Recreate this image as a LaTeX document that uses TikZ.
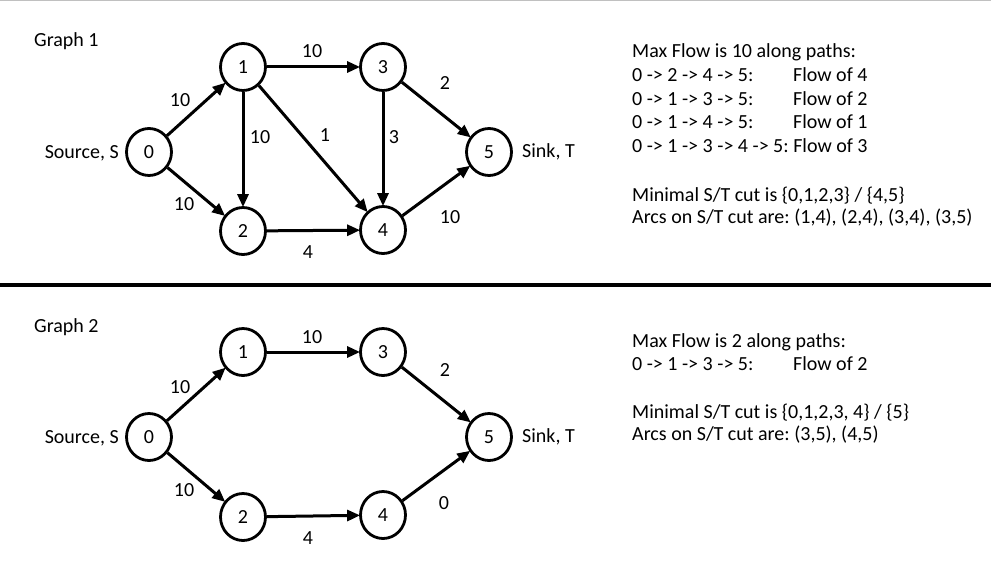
\documentclass[tikz,border=0pt]{standalone}
\usepackage{fontspec}
\setmainfont{Carlito}
\usetikzlibrary{arrows.meta,shapes.geometric}
\frenchspacing
\begin{document}
\begin{tikzpicture}[x=1pt,y=-1pt,
  vert/.style={ellipse,draw,line width=2.8pt,minimum width=45pt,minimum height=47pt,inner sep=0pt,font=\fontsize{20}{24}\selectfont},
  edge/.style={line width=3pt,-{Triangle[length=13pt,width=11pt]},shorten >=-1pt},
  lbl/.style={inner sep=0pt,font=\fontsize{20}{24}\selectfont},
  txt/.style={inner sep=0pt,anchor=base west,font=\fontsize{20}{24}\selectfont}]
\useasboundingbox (0,0) rectangle (991,567);
\fill[white] (0,0) rectangle (991,567);
\draw[line width=1.4pt,color={rgb,255:red,192;green,192;blue,192}] (0,0.7) -- (991,0.7);
\draw[line width=4.6pt] (0,285) -- (991,285);

% ---------- Graph 1 ----------
\node[txt] (g1) at (34,47) {Graph 1};
\node[vert] (a0) at (149,152) {0};
\node[vert] (a1) at (243,67) {1};
\node[vert] (a2) at (243,231) {2};
\node[vert] (a3) at (383,67) {3};
\node[vert] (a4) at (383,230) {4};
\node[vert] (a5) at (489,152) {5};
\node[lbl,anchor=east] (as) at (119,153) {Source, S};
\node[lbl,anchor=west] (at) at (522,152) {Sink, T};
\draw[edge] (a0) -- (a1);
\draw[edge] (a0) -- (a2);
\draw[edge] (a1) -- (a3);
\draw[edge] (a1) -- (a2);
\draw[edge] (a1) -- (a4);
\draw[edge] (a3) -- (a4);
\draw[edge] (a3) -- (a5);
\draw[edge] (a2) -- (a4);
\draw[edge] (a4) -- (a5);
\node[lbl] (l01) at (180,100) {10};
\node[lbl] (l02) at (184,204) {10};
\node[lbl] (l13) at (312,51) {10};
\node[lbl] (l35) at (445,83) {2};
\node[lbl] (l12) at (260,137) {10};
\node[lbl] (l14) at (325,135) {1};
\node[lbl] (l34) at (394,137) {3};
\node[lbl] (l45) at (450,217) {10};
\node[lbl] (l24) at (308,252) {4};

\node[txt] (t1) at (632,58) {Max Flow is 10 along paths:};
\node[txt] (t2) at (632,82) {0 -> 2 -> 4 -> 5:};
\node[txt] (t2b) at (793,82) {Flow of 4};
\node[txt] (t3) at (632,106) {0 -> 1 -> 3 -> 5:};
\node[txt] (t3b) at (793,106) {Flow of 2};
\node[txt] (t4) at (632,129) {0 -> 1 -> 4 -> 5:};
\node[txt] (t4b) at (793,129) {Flow of 1};
\node[txt] (t5) at (632,153) {0 -> 1 -> 3 -> 4 -> 5: Flow of 3};
\node[txt] (t6) at (632,201) {Minimal S/T cut is \{0,1,2,3\} / \{4,5\}};
\node[txt] (t7) at (632,223) {Arcs on S/T cut are: (1,4), (2,4), (3,4), (3,5)};

% ---------- Graph 2 ----------
\node[txt] (g2) at (34,332) {Graph 2};
\node[vert] (b0) at (149,437) {0};
\node[vert] (b1) at (243,352) {1};
\node[vert] (b2) at (243,517) {2};
\node[vert] (b3) at (383,352) {3};
\node[vert] (b4) at (383,515) {4};
\node[vert] (b5) at (489,437) {5};
\node[lbl,anchor=east] (bs) at (119,438) {Source, S};
\node[lbl,anchor=west] (bt) at (522,437) {Sink, T};
\draw[edge] (b0) -- (b1);
\draw[edge] (b0) -- (b2);
\draw[edge] (b1) -- (b3);
\draw[edge] (b3) -- (b5);
\draw[edge] (b2) -- (b4);
\draw[edge] (b4) -- (b5);
\node[lbl] (m01) at (180,387) {10};
\node[lbl] (m02) at (184,490) {10};
\node[lbl] (m13) at (312,337) {10};
\node[lbl] (m35) at (445,370) {2};
\node[lbl] (m45) at (444,503) {0};
\node[lbl] (m24) at (308,538) {4};

\node[txt] (u1) at (632,347) {Max Flow is 2 along paths:};
\node[txt] (u2) at (632,370) {0 -> 1 -> 3 -> 5:};
\node[txt] (u2b) at (793,370) {Flow of 2};
\node[txt] (u3) at (632,418) {Minimal S/T cut is \{0,1,2,3, 4\} / \{5\}};
\node[txt] (u4) at (632,440) {Arcs on S/T cut are: (3,5), (4,5)};
\end{tikzpicture}
\end{document}
